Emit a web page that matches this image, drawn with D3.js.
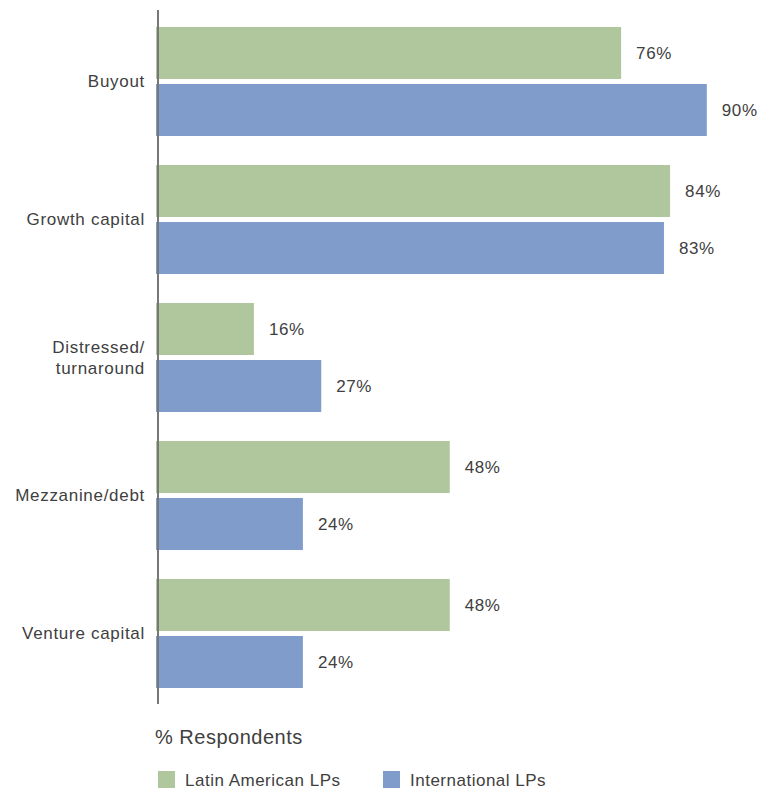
<!DOCTYPE html>
<html>
<head>
<meta charset="utf-8">
<script src="https://cdn.jsdelivr.net/npm/d3@7"></script>
<style>
  html, body { margin: 0; padding: 0; background: #fff; }
  svg { display: block; font-family: "Liberation Sans", Arial, Helvetica, sans-serif; }
</style>
</head>
<body>
<svg id="chart" width="771" height="790"></svg>
<script>
// Strategies LPs plan to invest in, by investor type (% of respondents)
const categories = ["Buyout", "Growth capital", "Distressed/\nturnaround", "Mezzanine/debt", "Venture capital"];
const seriesNames = ["Latin American LPs", "International LPs"];
const latinAmerican = [76, 84, 16, 48, 48];
const international = [90, 83, 27, 24, 24];
const seriesColors = ["#b0c79d", "#7f9ccb"];
const axisTitle = "% Respondents";

const seriesValues = [latinAmerican, international];

const svg = d3.select("#chart");
const textColor = "#404040";

const x = d3.scaleLinear().domain([0, 100]).range([156, 768]);

const y = d3.scaleBand()
  .domain(categories)
  .range([12.5, 702.5])
  .paddingInner(0.21)
  .paddingOuter(0.105);

const ySub = d3.scaleBand()
  .domain(seriesNames)
  .range([0, y.bandwidth()])
  .paddingInner(0.0877);

const rows = categories.map((c, i) => ({
  category: c,
  values: seriesNames.map((s, j) => ({ series: s, value: seriesValues[j][i], color: seriesColors[j] }))
}));

const groups = svg.append("g").selectAll("g.group")
  .data(rows)
  .join("g")
  .attr("class", "group")
  .attr("transform", d => `translate(0,${y(d.category)})`);

groups.selectAll("rect")
  .data(d => d.values)
  .join("rect")
  .attr("x", x(0))
  .attr("y", d => ySub(d.series))
  .attr("width", d => x(d.value) - x(0))
  .attr("height", ySub.bandwidth())
  .attr("fill", d => d.color);

groups.selectAll("text.value")
  .data(d => d.values)
  .join("text")
  .attr("class", "value")
  .attr("x", d => x(d.value) + 15)
  .attr("y", d => ySub(d.series) + ySub.bandwidth() / 2)
  .attr("dy", "0.35em")
  .attr("font-size", 17)
  .attr("letter-spacing", 0.6)
  .attr("fill", textColor)
  .text(d => d.value + "%");

// Category labels, centred between each pair of bars
const catLabels = groups.append("text")
  .attr("x", 145)
  .attr("y", y.bandwidth() / 2)
  .attr("text-anchor", "end")
  .attr("font-size", 17)
  .attr("letter-spacing", 0.7)
  .attr("fill", textColor);

catLabels.each(function(d) {
  const lines = d.category.split("\n");
  const lh = 21;
  const t = d3.select(this);
  lines.forEach((ln, k) => {
    t.append("tspan")
      .attr("x", 145)
      .attr("y", y.bandwidth() / 2 + (k - (lines.length - 1) / 2) * lh)
      .attr("dy", "0.35em")
      .text(ln);
  });
});

// Vertical baseline axis
svg.append("line")
  .attr("x1", x(0) + 2).attr("x2", x(0) + 2)
  .attr("y1", 10).attr("y2", 704)
  .attr("stroke", "#777")
  .attr("stroke-width", 2);

// Axis title
svg.append("text")
  .attr("x", 155)
  .attr("y", 744)
  .attr("font-size", 20)
  .attr("letter-spacing", 0.5)
  .attr("fill", textColor)
  .text(axisTitle);

// Legend
const legendX = [158, 383];
const legend = svg.append("g").selectAll("g")
  .data(seriesNames)
  .join("g")
  .attr("transform", (d, i) => `translate(${legendX[i]},771)`);

legend.append("rect")
  .attr("width", 17)
  .attr("height", 17)
  .attr("fill", (d, i) => seriesColors[i]);

legend.append("text")
  .attr("x", 27)
  .attr("y", 9)
  .attr("dy", "0.35em")
  .attr("font-size", 17)
  .attr("letter-spacing", 0.5)
  .attr("fill", textColor)
  .text(d => d);
</script>
</body>
</html>
